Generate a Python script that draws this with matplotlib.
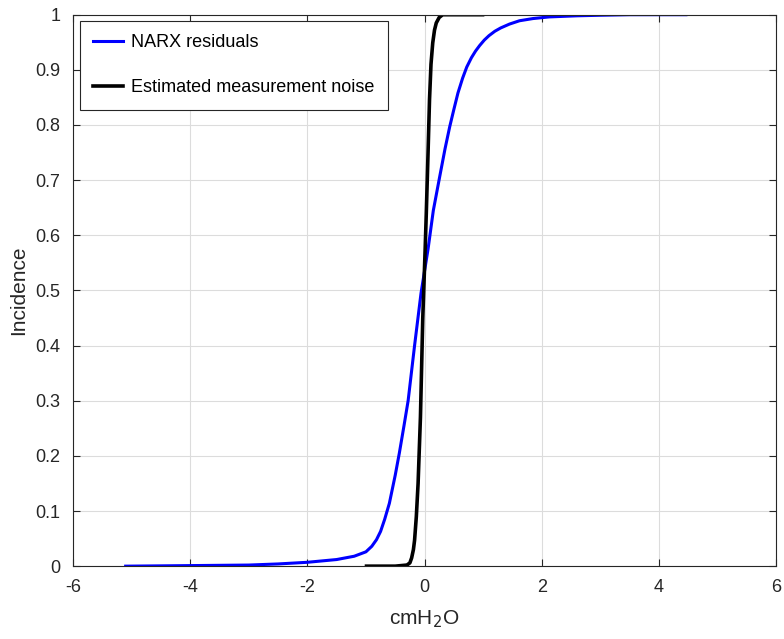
import numpy as np
import matplotlib
matplotlib.use('Agg')
import matplotlib.pyplot as plt

plt.rcParams['font.family'] = ['Liberation Sans', 'DejaVu Sans']
plt.rcParams['axes.unicode_minus'] = False

# CDF of NARX residuals
narx_x = [-5.1, -4.0, -3.0, -2.5, -2.0, -1.5, -1.2, -1.0, -0.9, -0.82, -0.75, -0.68,
          -0.6, -0.5, -0.43, -0.35, -0.28, -0.17, -0.06, 0.06, 0.15, 0.26, 0.35, 0.43,
          0.5, 0.57, 0.65, 0.72, 0.8, 0.87, 0.94, 1.02, 1.1, 1.2, 1.3, 1.45, 1.62, 1.85,
          2.13, 2.6, 3.0, 3.5, 4.46]
narx_y = [0.0, 0.001, 0.002, 0.004, 0.007, 0.012, 0.018, 0.026, 0.036, 0.048, 0.063, 0.085,
          0.114, 0.165, 0.205, 0.255, 0.30, 0.40, 0.495, 0.575, 0.645, 0.707, 0.757, 0.797,
          0.828, 0.858, 0.885, 0.905, 0.922, 0.934, 0.944, 0.954, 0.962, 0.97, 0.976, 0.983, 0.989, 0.993,
          0.996, 0.998, 0.999, 1.0, 1.0]

# CDF of estimated measurement noise
noise_x = [-0.99, -0.5, -0.3, -0.25, -0.22, -0.19, -0.17, -0.14, -0.11, -0.07, -0.03, 0.01,
           0.03, 0.06, 0.085, 0.11, 0.14, 0.17, 0.20, 0.25, 0.31, 0.99]
noise_y = [0.0, 0.0, 0.002, 0.006, 0.015, 0.03, 0.047, 0.09, 0.15, 0.27, 0.45, 0.573,
           0.64, 0.75, 0.846, 0.91, 0.949, 0.972, 0.985, 0.995, 1.0, 1.0]

fig = plt.figure(figsize=(7.84, 6.39), dpi=100)
ax = fig.add_axes([0.093, 0.114, 0.897, 0.863])

ax.plot(narx_x, narx_y, color='#0000ff', linewidth=2.2, label='NARX residuals')
ax.plot(noise_x, noise_y, color='black', linewidth=2.6, label='Estimated measurement noise')

ax.set_xlim(-6, 6)
ax.set_ylim(0, 1)
ax.set_xticks(np.arange(-6, 7, 2))
ax.set_yticks(np.arange(0, 1.01, 0.1))
ax.set_yticklabels(['0', '0.1', '0.2', '0.3', '0.4', '0.5', '0.6', '0.7', '0.8', '0.9', '1'])
ax.grid(True, color='#dcdcdc', linewidth=0.8)
ax.set_axisbelow(True)
ax.tick_params(direction='in', top=True, right=True, labelsize=13, colors='#262626',
               length=5, width=0.8)
ax.tick_params(axis='x', pad=9)
ax.tick_params(axis='y', pad=9)
for s in ax.spines.values():
    s.set_color('#262626')
    s.set_linewidth(0.8)

ax.set_xlabel('cmH$_2$O', fontsize=15, color='#262626', labelpad=9)
ax.set_ylabel('Incidence', fontsize=15, color='#262626', labelpad=5)

leg = ax.legend(loc='upper left', fontsize=13, fancybox=False, edgecolor='#262626',
                framealpha=1, handlelength=1.66, handletextpad=0.4,
                labelspacing=1.55, borderpad=0.75, borderaxespad=0,
                bbox_to_anchor=(0.01, 0.989))
leg.get_frame().set_linewidth(0.8)

fig.savefig('out.png', dpi=100)
